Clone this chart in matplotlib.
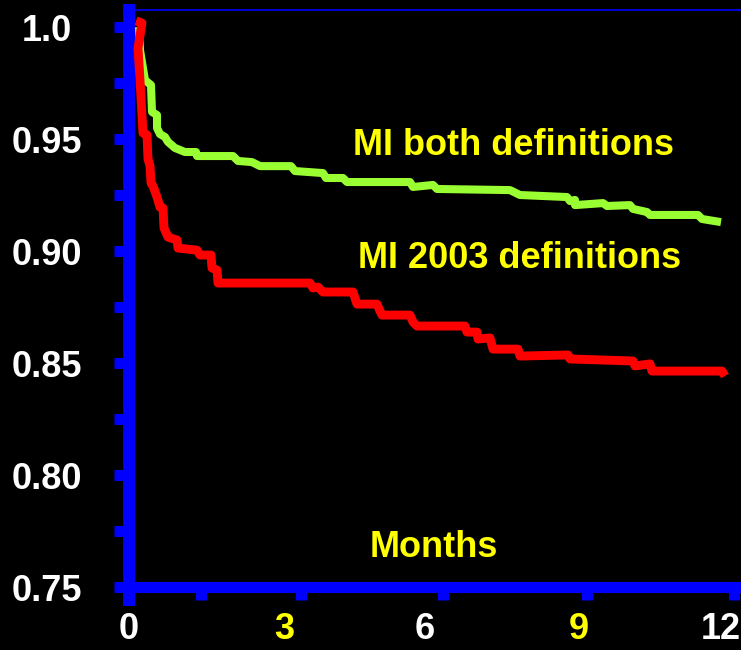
"""Event-free survival curves for the two MI definitions."""

import matplotlib.pyplot as plt
from matplotlib.ticker import FixedLocator

BLUE = "#0000ff"
GREEN = "#99ff33"
RED = "#ff0000"
YELLOW = "#ffff00"

# curve vertices (months, event-free fraction)
both_months = [
    0.20, 0.22, 0.32, 0.44, 0.46, 0.56, 0.56, 0.62, 0.72, 0.78, 0.92, 1.12,
    1.34, 1.36, 2.08, 2.18, 2.46, 2.62, 3.24, 3.32, 3.88, 3.94, 4.28, 4.36,
    5.62, 5.68, 6.08, 6.16, 7.62, 7.82, 8.76, 8.82, 8.92, 8.92, 9.48, 9.56,
    10.02, 10.08, 10.36, 10.42, 11.38, 11.46, 11.84,
]
both_surv = [
    1.000, 0.9897, 0.9763, 0.9741, 0.9621, 0.9607, 0.9549, 0.9522, 0.9509,
    0.9487, 0.9460, 0.9442, 0.9442, 0.9424, 0.9424, 0.9402, 0.9397, 0.9379,
    0.9379, 0.9357, 0.9348, 0.9326, 0.9326, 0.9308, 0.9308, 0.9286, 0.9295,
    0.9277, 0.9272, 0.9250, 0.9241, 0.9223, 0.9228, 0.9205, 0.9214, 0.9201,
    0.9205, 0.9188, 0.9174, 0.9161, 0.9161, 0.9143, 0.9129,
]

mi2003_months = [
    0.14, 0.26, 0.18, 0.22, 0.28, 0.36, 0.38, 0.42, 0.44, 0.48, 0.56, 0.62,
    0.68, 0.70, 0.78, 0.96, 0.98, 1.36, 1.42, 1.64, 1.66, 1.76, 1.78, 3.62,
    3.68, 3.78, 3.88, 4.48, 4.56, 4.96, 5.02, 5.06, 5.62, 5.68, 5.76, 6.72,
    6.76, 6.96, 6.98, 7.22, 7.28, 7.78, 7.82, 8.78, 8.82, 10.08, 10.12,
    10.42, 10.46, 11.86, 11.92,
]
mi2003_surv = [
    1.0027, 1.0018, 0.9906, 0.9763, 0.9527, 0.9518, 0.9411, 0.9380, 0.9304,
    0.9290, 0.9241, 0.9196, 0.9192, 0.9103, 0.9062, 0.9049, 0.9013, 0.9004,
    0.8982, 0.8982, 0.8924, 0.8915, 0.8857, 0.8857, 0.8835, 0.8839, 0.8817,
    0.8817, 0.8763, 0.8763, 0.8732, 0.8714, 0.8714, 0.8683, 0.8665, 0.8665,
    0.8638, 0.8638, 0.8607, 0.8612, 0.8562, 0.8562, 0.8531, 0.8536, 0.8518,
    0.8509, 0.8487, 0.8496, 0.8464, 0.8464, 0.8442,
]

y_ticks = [0.75, 0.80, 0.85, 0.90, 0.95, 1.00]
y_labels = ["0.75", "0.80", "0.85", "0.90", "0.95", "1.0"]
y_minor = [0.775, 0.825, 0.875, 0.925, 0.975]
x_labels = ["0", "3", "6", "9", "12"]
x_label_pos = [0.0, 3.1, 5.92, 9.0, 11.84]
x_label_colors = ["white", YELLOW, "white", YELLOW, "white"]
x_marks = [1.44, 3.44, 6.28, 9.16, 12.1]

plt.rcParams["font.family"] = ["Liberation Sans", "DejaVu Sans"]
plt.rcParams["font.weight"] = "bold"

fig = plt.figure(figsize=(7.41, 6.5), dpi=100, facecolor="black")
ax = fig.add_axes((129 / 741, 50 / 650, 612 / 741, 590 / 650))
ax.set_facecolor("black")

ax.plot(both_months, both_surv, color=GREEN, lw=5.8, solid_joinstyle="round",
        solid_capstyle="butt", zorder=3, clip_on=False)
ax.plot(mi2003_months, mi2003_surv, color=RED, lw=6.4, solid_joinstyle="round",
        solid_capstyle="butt", zorder=4, clip_on=False)

ax.set_xlim(0, 12.24)
ax.set_ylim(0.7442, 1.0076)

# spines: thick blue axes, hairline top border
for side in ("left", "bottom"):
    ax.spines[side].set_color(BLUE)
ax.spines["left"].set_linewidth(8.6)
ax.spines["bottom"].set_linewidth(8.0)
ax.spines["bottom"].set_position(("data", 0.75))
ax.spines["top"].set_color(BLUE)
ax.spines["top"].set_linewidth(1.2)
ax.spines["right"].set_visible(False)

# y axis
ax.yaxis.set_major_locator(FixedLocator(y_ticks))
ax.yaxis.set_minor_locator(FixedLocator(y_minor))
ax.set_yticklabels(y_labels)
ax.tick_params(axis="y", which="both", direction="out", length=10.8, width=8,
               color=BLUE, pad=48, labelsize=26, labelcolor="white")
for lab in ax.get_yticklabels():
    lab.set_horizontalalignment("center")
    lab.set_fontweight("bold")

# x axis: labels and tick marks sit at different places
ax.xaxis.set_major_locator(FixedLocator(x_label_pos))
ax.set_xticklabels(x_labels)
ax.xaxis.set_minor_locator(FixedLocator(x_marks))
ax.tick_params(axis="x", which="major", length=0, pad=18, labelsize=26)
ax.tick_params(axis="x", which="minor", direction="out", length=9.4, width=8,
               color=BLUE)
for lab, col in zip(ax.get_xticklabels(), x_label_colors):
    lab.set_color(col)
    lab.set_fontweight("bold")

text_kw = dict(color=YELLOW, fontsize=26, fontweight="bold", ha="left",
               va="baseline")
ax.text(4.48, 0.9429, "MI both definitions", **text_kw)
ax.text(4.58, 0.8924, "MI 2003 definitions", **text_kw)
ax.text(4.82, 0.7634, "Months", **text_kw)

fig.savefig("out.png", dpi=100, facecolor="black")
